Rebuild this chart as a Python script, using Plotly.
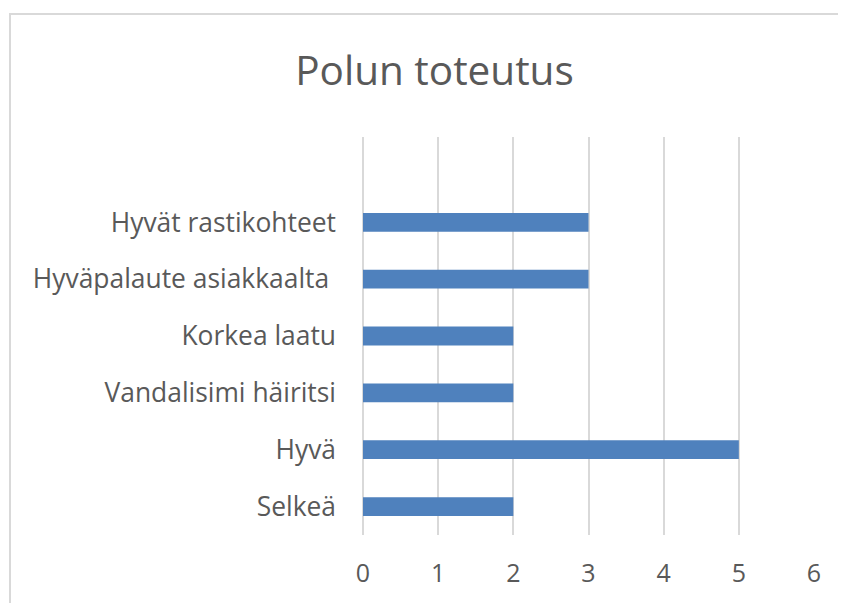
import plotly.graph_objects as go

categories = ["Selkeä", "Hyvä", "Vandalisimi häiritsi", "Korkea laatu",
              "Hyväpalaute asiakkaalta ", "Hyvät rastikohteet"]
values = [2, 5, 2, 2, 3, 3]
x_ticks = [0, 1, 2, 3, 4, 5, 6]

FONT = "Open Sans"
GREY = "#595959"

# page body has an 8px offset, so figure coords = screen coords - 8
L, R_EDGE, T, B_EDGE = 355, 806, 129, 527
W, H = 846, 603

fig = go.Figure(go.Bar(
    y=categories, x=values, orientation="h",
    marker=dict(color="#4f81bd", line=dict(width=0)),
    hoverinfo="skip",
))

fig.update_layout(
    width=W, height=H,
    margin=dict(l=L, r=W - R_EDGE, t=T, b=H - B_EDGE, autoexpand=False),
    paper_bgcolor="white", plot_bgcolor="white",
    bargap=0.67,
    showlegend=False,
    title=dict(text="Polun toteutus", x=426.5 / W, xref="container", xanchor="center",
               y=1 - 63 / H, yanchor="middle", yref="container",
               font=dict(family=FONT, size=40.5, color=GREY)),
    xaxis=dict(range=[0, 6], tickvals=x_ticks, showgrid=True, gridcolor="#d9d9d9",
               gridwidth=2, zeroline=True, zerolinecolor="#d9d9d9", zerolinewidth=2,
               showline=False, ticks="", ticklabelstandoff=21,
               tickfont=dict(family=FONT, size=25, color=GREY), fixedrange=True),
    yaxis=dict(type="category", categoryorder="array", categoryarray=categories,
               range=[-0.5, 6.5], showgrid=False, zeroline=False, showline=False,
               ticks="", ticklabelstandoff=26,
               tickfont=dict(family=FONT, size=26.4, color=GREY), fixedrange=True),
    shapes=[dict(type="rect", xref="paper", yref="paper",
                 x0=(2 - L) / (R_EDGE - L), x1=1.5, y0=-0.5,
                 y1=(B_EDGE - 6) / (B_EDGE - T),
                 line=dict(color="#d9d9d9", width=2), fillcolor="rgba(0,0,0,0)",
                 layer="below")],
)

fig.write_html("out.html")
